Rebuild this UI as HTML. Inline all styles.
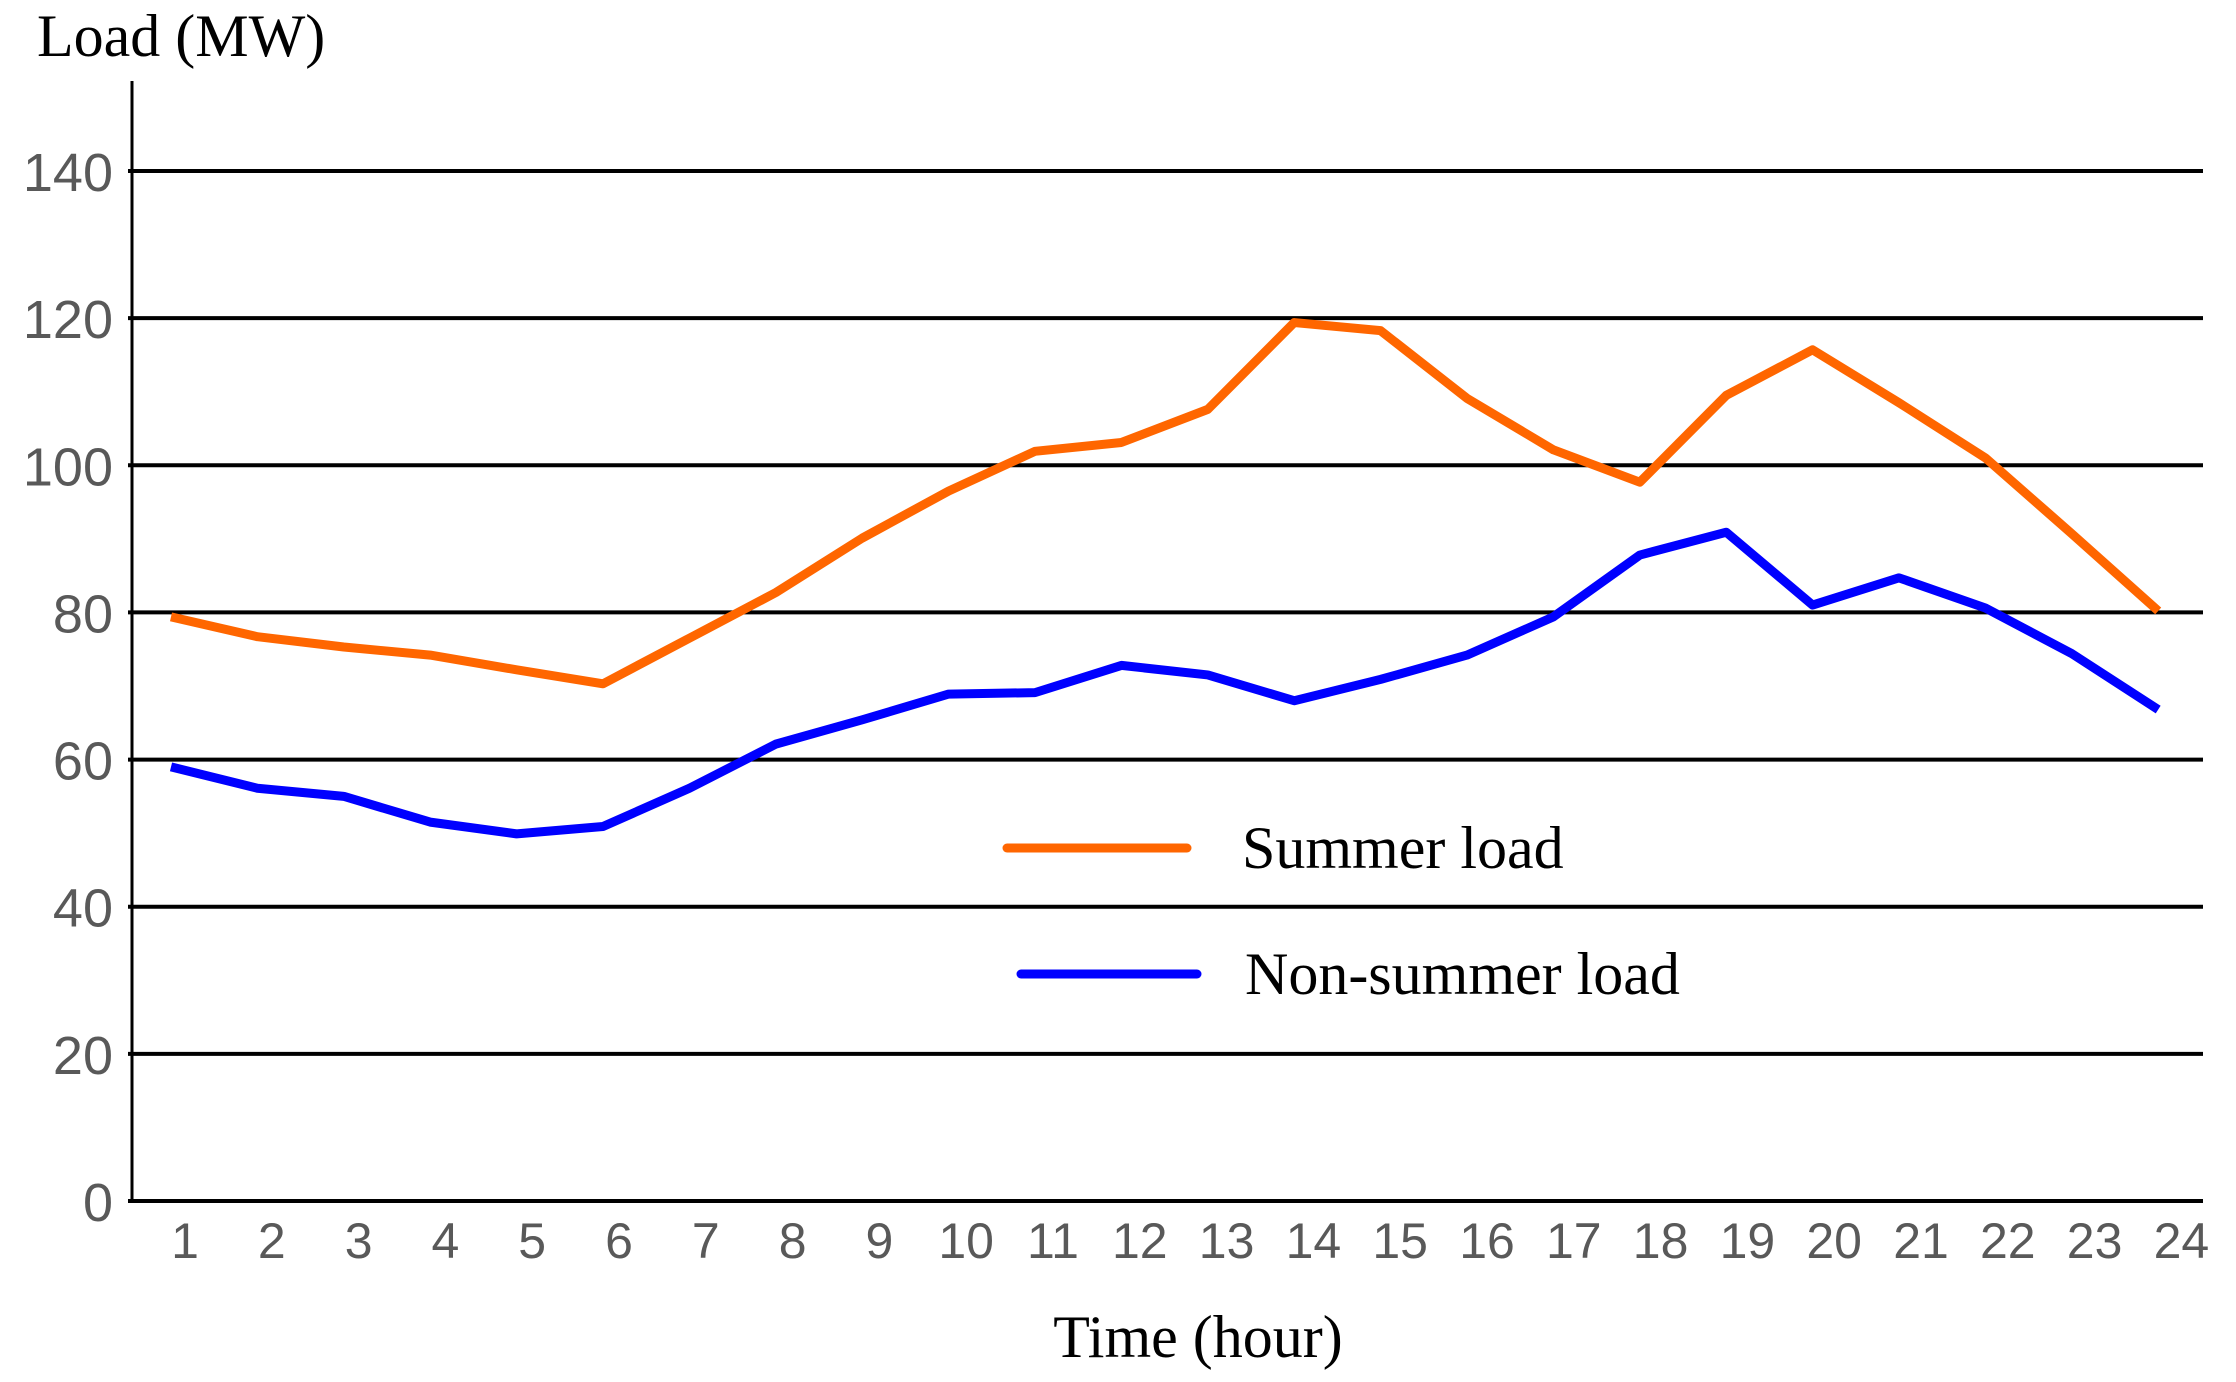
<!DOCTYPE html>
<html><head><meta charset="utf-8"><style>
html,body{margin:0;padding:0;background:#fff;}
svg{display:block;}
</style></head><body>
<svg id="chart" width="2236" height="1382" viewBox="0 0 2236 1382" xmlns="http://www.w3.org/2000/svg">
<g id="grid"></g>
<g id="yticks"></g>
<g id="xticks"></g>
<line x1="132" y1="81" x2="132" y2="1202" stroke="#000" stroke-width="3"/>
<g id="series"></g>
<text x="37" y="56" font-family="Liberation Serif, serif" font-size="60" fill="#000">Load (MW)</text>
<text x="1198" y="1357" text-anchor="middle" font-family="Liberation Serif, serif" font-size="60" fill="#000">Time (hour)</text>
<g>
<line x1="1007" y1="848" x2="1187" y2="848" stroke="#FF6600" stroke-width="9" stroke-linecap="round"/>
<text x="1242" y="868" font-family="Liberation Serif, serif" font-size="60" fill="#000">Summer load</text>
<line x1="1021" y1="974" x2="1197" y2="974" stroke="#0000FF" stroke-width="9" stroke-linecap="round"/>
<text x="1245" y="994" font-family="Liberation Serif, serif" font-size="60" fill="#000">Non-summer load</text>
</g>
</svg>
<script>
const hours = [1,2,3,4,5,6,7,8,9,10,11,12,13,14,15,16,17,18,19,20,21,22,23,24];
const summerLoad = [79.4,76.7,75.3,74.2,72.2,70.3,76.5,82.7,90.1,96.5,101.9,103.1,107.6,119.4,118.3,109.1,102.1,97.7,109.5,115.7,108.5,101,90.7,80.2];
const nonSummerLoad = [59,56.1,55,51.5,49.9,50.9,56.1,62.1,65.4,68.9,69.1,72.8,71.5,68,70.9,74.2,79.4,87.8,90.9,81,84.7,80.6,74.4,66.8];
const yTicks = [0,20,40,60,80,100,120,140];

const NS='http://www.w3.org/2000/svg';
const y0=1201, yPer=(1201-171)/140;
function yScale(v){return y0 - v*yPer;}
function xPoint(h){return 171 + (h-1)*86.4;}
function xLabel(h){return 185 + (h-1)*86.8;}

const grid=document.getElementById('grid'), yt=document.getElementById('yticks'), xt=document.getElementById('xticks'), ser=document.getElementById('series');
yTicks.forEach(v=>{
  const l=document.createElementNS(NS,'line');
  
  
  l.setAttribute('x1',128);l.setAttribute('x2',2203);
  l.setAttribute('y1',yScale(v));l.setAttribute('y2',yScale(v));
  l.setAttribute('stroke','#000');l.setAttribute('stroke-width',4);
  grid.appendChild(l);
  const t=document.createElementNS(NS,'text');
  
  
  t.setAttribute('x',113);t.setAttribute('y',yScale(v)+20);
  t.setAttribute('text-anchor','end');
  t.setAttribute('font-family','Liberation Sans, sans-serif');
  t.setAttribute('font-size','54');t.setAttribute('fill','#595959');
  t.textContent=v;
  yt.appendChild(t);
});
hours.forEach(h=>{
  const t=document.createElementNS(NS,'text');
  
  
  t.setAttribute('x',xLabel(h));t.setAttribute('y',1258);
  t.setAttribute('text-anchor','middle');
  t.setAttribute('font-family','Liberation Sans, sans-serif');
  t.setAttribute('font-size','50');t.setAttribute('fill','#595959');
  t.textContent=h;
  xt.appendChild(t);
});
function drawLine(vals,color,name){
  const p=document.createElementNS(NS,'polyline');
  
  
  p.setAttribute('points',vals.map((v,i)=>xPoint(hours[i])+','+yScale(v)).join(' '));
  p.setAttribute('fill','none');p.setAttribute('stroke',color);
  p.setAttribute('stroke-width',9);p.setAttribute('stroke-linejoin','round');
  ser.appendChild(p);
}
drawLine(summerLoad,'#FF6600','summer-load-line');
drawLine(nonSummerLoad,'#0000FF','non-summer-load-line');
</script>
</body></html>
